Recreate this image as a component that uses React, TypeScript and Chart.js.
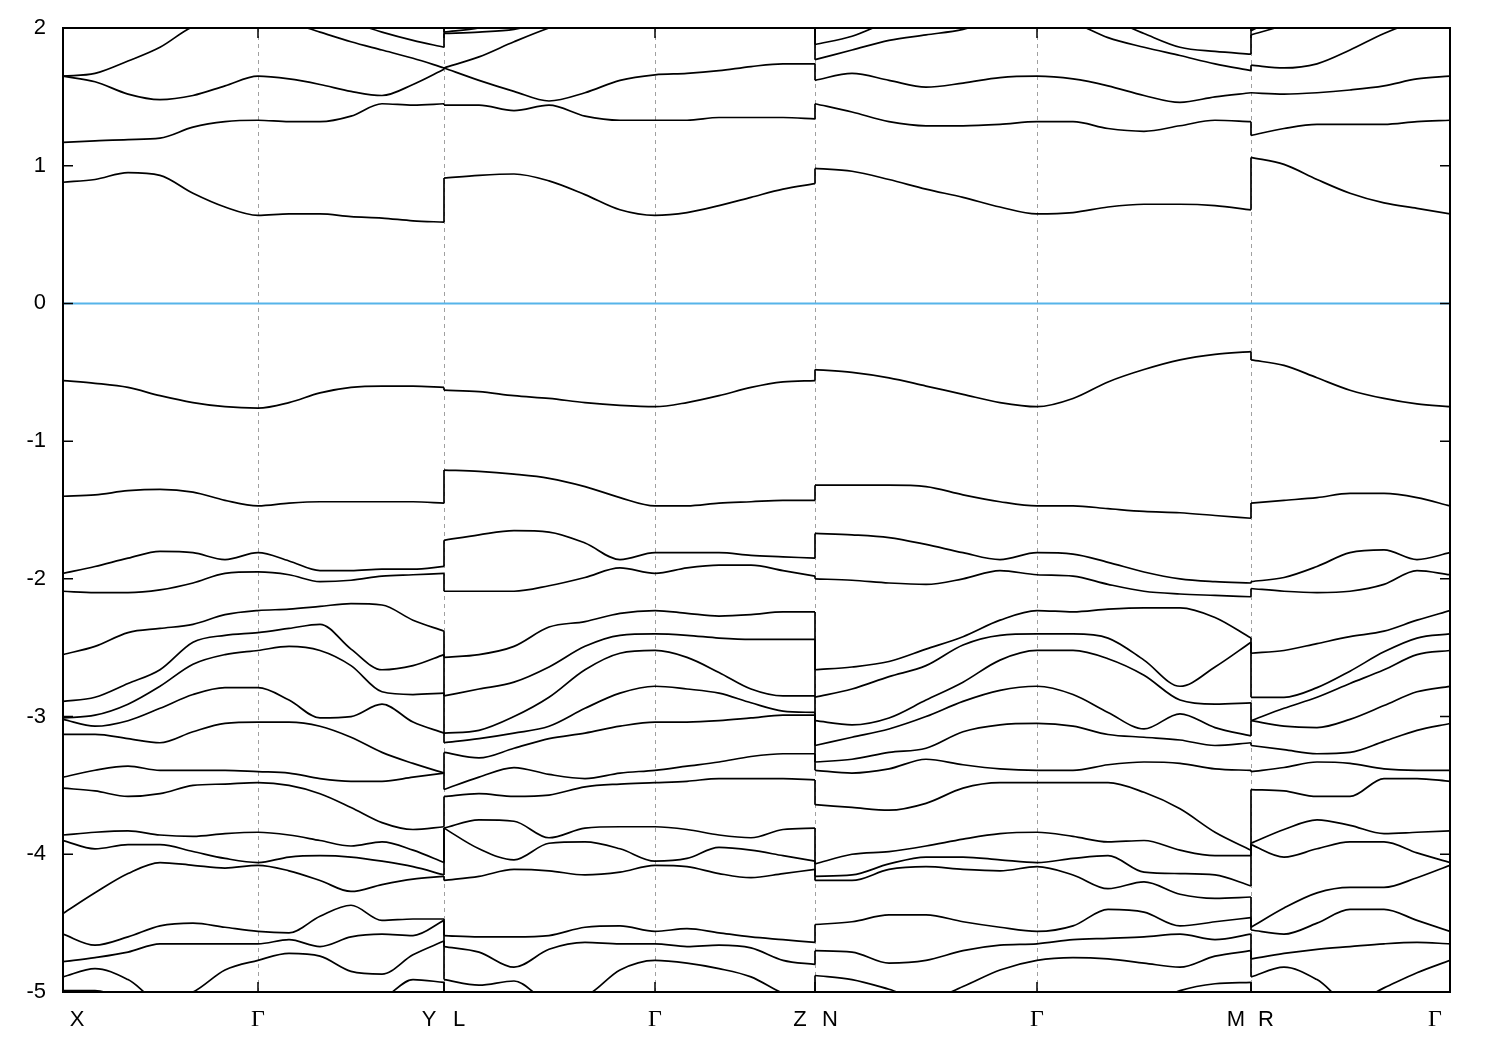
import React, { useEffect, useRef } from 'react';
import { Chart, registerables } from 'chart.js';

Chart.register(...registerables);

// k-path sampling (arb. units) for the four path pieces
const kXY = [0, 0.32, 0.65, 0.97, 1.30, 1.62, 1.95, 2.26, 2.57, 2.88, 3.19, 3.50, 3.81];
const kLZ = [3.81, 4.16, 4.51, 4.86, 5.22, 5.57, 5.92, 6.24, 6.56, 6.88, 7.20, 7.52];
const kNM = [7.52, 7.89, 8.26, 8.63, 9.00, 9.37, 9.74, 10.10, 10.45, 10.81, 11.17, 11.52, 11.88];
const kRG = [11.88, 12.21, 12.54, 12.87, 13.21, 13.54, 13.87];

// high-symmetry points
const symK = [0, 1.95, 3.81, 3.81, 5.92, 7.52, 7.52, 9.74, 11.88, 11.88, 13.87];
const symLabels = ['X', 'Γ', 'Y', 'L', 'Γ', 'Z', 'N', 'Γ', 'M', 'R', 'Γ'];
const yTicks = [-5, -4, -3, -2, -1, 0, 1, 2];
const fermiLevel = 0;

// band energies (eV), one sub-array per path piece
const CB6 = [
  [2.35, 2.35, 2.35, 2.35, 2.35, 2.35, 2.35, 2.35, 2.35, 2.3, 2.25, 2.18, 2.1],
  [1.97, 2.0, 2.06, 2.12, 2.2, 2.3, 2.35, 2.35, 2.35, 2.35, 2.35, 2.35],
  [2.3, 2.3, 2.3, 2.3, 2.3, 2.3, 2.3, 2.3, 2.3, 2.3, 2.3, 2.3, 2.3],
  [1.98, 2.1, 2.2, 2.3, 2.3, 2.3, 2.3],
];
const CB5 = [
  [2.15, 2.2, 2.25, 2.25, 2.25, 2.2, 2.2, 2.15, 2.1, 2.04, 1.97, 1.91, 1.86],
  [1.96, 1.97, 1.99, 2.05, 2.12, 2.2, 2.25, 2.25, 2.25, 2.25, 2.25, 2.25],
  [1.88, 1.94, 2.05, 2.15, 2.2, 2.2, 2.2, 2.15, 2.07, 1.96, 1.86, 1.83, 1.81],
  [1.95, 2.02, 2.1, 2.15, 2.2, 2.2, 2.2],
];
const CB4 = [
  [1.65, 1.67, 1.76, 1.86, 2.01, 2.06, 2.08, 2.04, 1.97, 1.90, 1.84, 1.78, 1.71],
  [1.71, 1.79, 1.90, 2.0, 2.08, 2.12, 2.15, 2.15, 2.15, 2.15, 2.12, 2.1],
  [1.77, 1.84, 1.91, 1.95, 1.99, 2.07, 2.1, 2.04, 1.93, 1.86, 1.80, 1.74, 1.69],
  [1.73, 1.71, 1.74, 1.84, 1.96, 2.05, 2.1],
];
const CB3 = [
  [1.65, 1.61, 1.52, 1.48, 1.51, 1.58, 1.65, 1.63, 1.59, 1.54, 1.51, 1.59, 1.70],
  [1.71, 1.62, 1.54, 1.47, 1.53, 1.62, 1.66, 1.67, 1.69, 1.72, 1.74, 1.74],
  [1.62, 1.67, 1.62, 1.57, 1.60, 1.64, 1.65, 1.63, 1.58, 1.51, 1.46, 1.50, 1.53],
  [1.53, 1.52, 1.53, 1.55, 1.58, 1.63, 1.65],
];
const CB2 = [
  [1.17, 1.18, 1.19, 1.20, 1.28, 1.32, 1.33, 1.32, 1.32, 1.36, 1.45, 1.44, 1.45],
  [1.44, 1.44, 1.40, 1.44, 1.36, 1.33, 1.33, 1.33, 1.35, 1.35, 1.35, 1.34],
  [1.45, 1.39, 1.32, 1.29, 1.29, 1.30, 1.32, 1.32, 1.27, 1.25, 1.29, 1.33, 1.32],
  [1.22, 1.27, 1.30, 1.30, 1.30, 1.32, 1.33],
];
const CB1 = [
  [0.88, 0.90, 0.95, 0.93, 0.80, 0.70, 0.64, 0.65, 0.65, 0.63, 0.62, 0.60, 0.59],
  [0.91, 0.93, 0.94, 0.89, 0.79, 0.68, 0.64, 0.66, 0.71, 0.77, 0.83, 0.87],
  [0.98, 0.96, 0.90, 0.83, 0.77, 0.70, 0.65, 0.66, 0.70, 0.72, 0.72, 0.71, 0.68],
  [1.06, 1.01, 0.90, 0.80, 0.73, 0.69, 0.65],
];
const VB1 = [
  [-0.56, -0.58, -0.61, -0.67, -0.72, -0.75, -0.76, -0.72, -0.65, -0.61, -0.60, -0.60, -0.61],
  [-0.63, -0.64, -0.67, -0.69, -0.72, -0.74, -0.75, -0.72, -0.67, -0.61, -0.57, -0.56],
  [-0.48, -0.50, -0.54, -0.60, -0.66, -0.72, -0.75, -0.69, -0.57, -0.48, -0.41, -0.37, -0.35],
  [-0.41, -0.45, -0.54, -0.63, -0.69, -0.73, -0.75],
];
const VB2 = [
  [-1.40, -1.39, -1.36, -1.35, -1.37, -1.43, -1.47, -1.45, -1.44, -1.44, -1.44, -1.44, -1.45],
  [-1.21, -1.22, -1.24, -1.27, -1.33, -1.41, -1.47, -1.47, -1.45, -1.44, -1.43, -1.43],
  [-1.32, -1.32, -1.32, -1.33, -1.39, -1.44, -1.47, -1.47, -1.49, -1.51, -1.52, -1.54, -1.56],
  [-1.45, -1.43, -1.41, -1.38, -1.38, -1.41, -1.47],
];
const VB3 = [
  [-1.96, -1.91, -1.85, -1.80, -1.81, -1.86, -1.81, -1.87, -1.94, -1.94, -1.93, -1.93, -1.91],
  [-1.72, -1.68, -1.65, -1.66, -1.74, -1.86, -1.81, -1.81, -1.81, -1.83, -1.84, -1.85],
  [-1.67, -1.68, -1.70, -1.75, -1.81, -1.86, -1.81, -1.82, -1.88, -1.95, -2.00, -2.02, -2.03],
  [-2.02, -1.99, -1.91, -1.81, -1.79, -1.86, -1.81],
];
const VB4 = [
  [-2.09, -2.10, -2.10, -2.08, -2.03, -1.96, -1.95, -1.97, -2.02, -2.01, -1.98, -1.97, -1.96],
  [-2.09, -2.09, -2.09, -2.05, -1.99, -1.92, -1.96, -1.92, -1.90, -1.90, -1.94, -1.98],
  [-2.00, -2.01, -2.03, -2.04, -2.00, -1.94, -1.97, -1.98, -2.04, -2.09, -2.11, -2.12, -2.13],
  [-2.07, -2.09, -2.10, -2.09, -2.04, -1.94, -1.97],
];
const VB5 = [
  [-2.55, -2.49, -2.39, -2.36, -2.33, -2.26, -2.23, -2.22, -2.20, -2.18, -2.19, -2.30, -2.38],
  [-2.57, -2.55, -2.49, -2.35, -2.31, -2.25, -2.23, -2.25, -2.27, -2.26, -2.24, -2.24],
  [-2.66, -2.64, -2.60, -2.51, -2.42, -2.30, -2.23, -2.24, -2.22, -2.21, -2.21, -2.28, -2.43],
  [-2.54, -2.52, -2.47, -2.42, -2.38, -2.30, -2.23],
];
const VB6 = [
  [-2.89, -2.86, -2.76, -2.66, -2.46, -2.41, -2.39, -2.36, -2.33, -2.51, -2.66, -2.63, -2.55],
  [-2.85, -2.80, -2.75, -2.64, -2.49, -2.41, -2.40, -2.41, -2.43, -2.44, -2.44, -2.44],
  [-2.86, -2.80, -2.71, -2.63, -2.48, -2.41, -2.40, -2.40, -2.43, -2.59, -2.78, -2.64, -2.46],
  [-2.86, -2.86, -2.79, -2.67, -2.53, -2.43, -2.40],
];
const VB7 = [
  [-3.01, -2.99, -2.91, -2.78, -2.62, -2.55, -2.52, -2.49, -2.52, -2.63, -2.82, -2.84, -2.83],
  [-3.12, -3.10, -3.00, -2.86, -2.66, -2.54, -2.52, -2.57, -2.68, -2.80, -2.85, -2.85],
  [-3.03, -3.06, -3.01, -2.88, -2.75, -2.59, -2.52, -2.52, -2.58, -2.70, -2.88, -2.91, -2.90],
  [-3.03, -2.94, -2.86, -2.76, -2.66, -2.55, -2.52],
];
const VB8 = [
  [-3.02, -3.07, -3.03, -2.94, -2.84, -2.79, -2.79, -2.88, -3.01, -3.00, -2.91, -3.04, -3.12],
  [-3.19, -3.16, -3.12, -3.07, -2.94, -2.83, -2.78, -2.80, -2.83, -2.90, -2.96, -2.97],
  [-3.21, -3.15, -3.09, -3.00, -2.89, -2.81, -2.78, -2.84, -2.97, -3.09, -2.98, -3.08, -3.14],
  [-3.03, -3.07, -3.08, -3.02, -2.92, -2.82, -2.78],
];
const VB9 = [
  [-3.13, -3.13, -3.16, -3.19, -3.11, -3.05, -3.04, -3.04, -3.07, -3.15, -3.26, -3.34, -3.41],
  [-3.26, -3.30, -3.23, -3.16, -3.12, -3.07, -3.04, -3.04, -3.03, -3.01, -2.99, -2.99],
  [-3.33, -3.31, -3.26, -3.23, -3.11, -3.06, -3.05, -3.07, -3.13, -3.15, -3.17, -3.21, -3.19],
  [-3.21, -3.24, -3.27, -3.26, -3.18, -3.10, -3.05],
];
const VB10 = [
  [-3.44, -3.39, -3.36, -3.39, -3.39, -3.39, -3.40, -3.41, -3.45, -3.47, -3.47, -3.44, -3.41],
  [-3.53, -3.44, -3.37, -3.42, -3.45, -3.41, -3.39, -3.36, -3.33, -3.29, -3.27, -3.27],
  [-3.39, -3.41, -3.38, -3.31, -3.35, -3.38, -3.39, -3.39, -3.35, -3.33, -3.34, -3.38, -3.39],
  [-3.40, -3.37, -3.33, -3.34, -3.38, -3.39, -3.39],
];
const VB11 = [
  [-3.52, -3.54, -3.58, -3.56, -3.50, -3.49, -3.48, -3.50, -3.56, -3.66, -3.77, -3.82, -3.80],
  [-3.58, -3.56, -3.58, -3.57, -3.51, -3.49, -3.48, -3.47, -3.45, -3.45, -3.45, -3.46],
  [-3.64, -3.66, -3.68, -3.63, -3.52, -3.48, -3.48, -3.48, -3.48, -3.55, -3.67, -3.84, -3.97],
  [-3.53, -3.54, -3.58, -3.58, -3.45, -3.45, -3.47],
];
const VB12 = [
  [-3.86, -3.84, -3.83, -3.86, -3.87, -3.85, -3.84, -3.86, -3.90, -3.94, -3.91, -3.97, -4.06],
  [-3.81, -3.75, -3.76, -3.88, -3.81, -3.80, -3.80, -3.82, -3.86, -3.88, -3.82, -3.81],
  [-4.07, -4.00, -3.98, -3.94, -3.89, -3.85, -3.84, -3.87, -3.91, -3.90, -3.97, -4.01, -4.01],
  [-3.92, -3.82, -3.75, -3.79, -3.85, -3.84, -3.83],
];
const VB13 = [
  [-3.90, -3.96, -3.93, -3.93, -3.98, -4.03, -4.06, -4.02, -4.01, -4.02, -4.05, -4.09, -4.15],
  [-3.81, -3.96, -4.04, -3.92, -3.91, -3.96, -4.05, -4.03, -3.95, -3.97, -4.01, -4.05],
  [-4.16, -4.15, -4.07, -4.02, -4.02, -4.04, -4.06, -4.03, -4.01, -4.13, -4.14, -4.15, -4.23],
  [-3.93, -4.02, -3.96, -3.91, -3.91, -3.99, -4.06],
];
const VB14 = [
  [-4.43, -4.28, -4.14, -4.06, -4.08, -4.10, -4.08, -4.12, -4.19, -4.27, -4.22, -4.18, -4.16],
  [-4.19, -4.16, -4.11, -4.12, -4.15, -4.13, -4.08, -4.09, -4.14, -4.17, -4.14, -4.11],
  [-4.19, -4.19, -4.11, -4.09, -4.11, -4.12, -4.09, -4.15, -4.25, -4.20, -4.29, -4.32, -4.31],
  [-4.53, -4.39, -4.28, -4.24, -4.24, -4.17, -4.08],
];
const VB15 = [
  [-4.58, -4.66, -4.60, -4.52, -4.50, -4.53, -4.56, -4.57, -4.45, -4.37, -4.48, -4.47, -4.47],
  [-4.59, -4.60, -4.60, -4.59, -4.53, -4.52, -4.56, -4.54, -4.57, -4.60, -4.62, -4.64],
  [-4.51, -4.49, -4.44, -4.44, -4.49, -4.53, -4.56, -4.52, -4.40, -4.42, -4.52, -4.49, -4.46],
  [-4.55, -4.58, -4.50, -4.40, -4.40, -4.48, -4.56],
];
const VB16 = [
  [-4.78, -4.75, -4.71, -4.65, -4.65, -4.65, -4.65, -4.62, -4.67, -4.60, -4.58, -4.59, -4.48],
  [-4.67, -4.71, -4.82, -4.69, -4.64, -4.65, -4.65, -4.67, -4.66, -4.68, -4.77, -4.80],
  [-4.70, -4.71, -4.79, -4.77, -4.70, -4.66, -4.65, -4.62, -4.61, -4.60, -4.58, -4.62, -4.58],
  [-4.76, -4.72, -4.69, -4.67, -4.65, -4.64, -4.65],
];
const VB17 = [
  [-4.89, -4.83, -4.91, -5.06, -5.00, -4.84, -4.77, -4.72, -4.74, -4.85, -4.87, -4.73, -4.63],
  [-4.91, -4.95, -4.92, -5.06, -5.03, -4.84, -4.77, -4.79, -4.83, -4.89, -5.01, -5.08],
  [-4.88, -4.91, -4.98, -5.06, -4.96, -4.84, -4.77, -4.75, -4.76, -4.79, -4.82, -4.74, -4.70],
  [-4.89, -4.82, -4.91, -5.08, -4.97, -4.86, -4.77],
];
const VB18 = [
  [-4.99, -4.99, -5.06, -5.12, -5.12, -5.10, -5.08, -5.08, -5.08, -5.08, -5.05, -4.91, -4.93],
  [-5.12, -5.12, -5.12, -5.12, -5.12, -5.12, -5.12, -5.12, -5.12, -5.12, -5.12, -5.12],
  [-5.12, -5.12, -5.12, -5.12, -5.12, -5.12, -5.12, -5.12, -5.12, -5.10, -4.99, -4.94, -4.93],
  [-5.12, -5.12, -5.12, -5.12, -5.12, -5.12, -5.12],
];

const SANS = '"Liberation Sans", Arial, Helvetica, sans-serif';
const SERIF = '"Liberation Serif", "DejaVu Serif", "Times New Roman", serif';

const framePlugin = {
  id: 'gnuplotFrame',
  beforeDatasetsDraw(chart: any) {
    const { ctx, chartArea: a, scales } = chart;
    const xs = scales.x;
    ctx.save();
    ctx.strokeStyle = '#a0a0a0';
    ctx.lineWidth = 1;
    ctx.setLineDash([4, 4]);
    const seen = new Set<number>();
    symK.forEach((k, i) => {
      if (i === 0 || i === symK.length - 1 || seen.has(k)) return;
      seen.add(k);
      const px = Math.round(xs.getPixelForValue(k)) + 0.5;
      ctx.beginPath();
      ctx.moveTo(px, a.top);
      ctx.lineTo(px, a.bottom);
      ctx.stroke();
    });
    ctx.restore();
  },
  afterDatasetsDraw(chart: any) {
    const { ctx, chartArea: a, scales } = chart;
    const xs = scales.x;
    const ys = scales.y;
    ctx.save();
    ctx.setLineDash([]);
    ctx.strokeStyle = '#000';
    ctx.lineWidth = 2;
    ctx.strokeRect(a.left, a.top, a.right - a.left, a.bottom - a.top);
    ctx.lineWidth = 1.5;
    ctx.beginPath();
    yTicks.forEach((v) => {
      const py = ys.getPixelForValue(v);
      ctx.moveTo(a.left, py);
      ctx.lineTo(a.left + 10, py);
      ctx.moveTo(a.right, py);
      ctx.lineTo(a.right - 10, py);
    });
    symK.forEach((k) => {
      const px = xs.getPixelForValue(k);
      ctx.moveTo(px, a.top);
      ctx.lineTo(px, a.top + 10);
      ctx.moveTo(px, a.bottom);
      ctx.lineTo(px, a.bottom - 10);
    });
    ctx.stroke();

    ctx.fillStyle = '#000';
    ctx.font = `22px ${SANS}`;
    ctx.textAlign = 'right';
    ctx.textBaseline = 'middle';
    yTicks.forEach((v) => ctx.fillText(String(v), a.left - 17, ys.getPixelForValue(v)));

    ctx.textAlign = 'center';
    symLabels.forEach((lab, i) => {
      let px = xs.getPixelForValue(symK[i]);
      if (i === 0) px += 14;
      else if (i === symK.length - 1) px -= 15;
      else if (symK[i + 1] === symK[i]) px -= 15;
      else if (symK[i - 1] === symK[i]) px += 15;
      ctx.font = lab === 'Γ' ? `24px ${SERIF}` : `22px ${SANS}`;
      ctx.fillText(lab, px, a.bottom + 28);
    });
    ctx.restore();
  },
};

export default function App() {
  const ref = useRef<HTMLCanvasElement>(null);

  useEffect(() => {
    const canvas = ref.current;
    if (!canvas) return;
    const segK = [kXY, kLZ, kNM, kRG];
    const bands = [
      CB6, CB5, CB4, CB3, CB2, CB1,
      VB1, VB2, VB3, VB4, VB5, VB6, VB7, VB8, VB9, VB10, VB11, VB12, VB13, VB14, VB15, VB16, VB17, VB18,
    ];
    const lineStyle = { borderColor: '#000000', borderWidth: 1.7, pointRadius: 0, fill: false };
    const datasets: any[] = [
      {
        data: [
          { x: kXY[0], y: fermiLevel },
          { x: kRG[kRG.length - 1], y: fermiLevel },
        ],
        borderColor: '#56b4e9',
        borderWidth: 2,
        pointRadius: 0,
        fill: false,
        tension: 0,
      },
    ];
    bands.forEach((band) => {
      band.forEach((vals, s) => {
        const ks = segK[s];
        datasets.push({
          ...lineStyle,
          data: ks.map((k, i) => ({ x: k, y: vals[i] })),
          cubicInterpolationMode: 'monotone',
        });
        if (s < band.length - 1) {
          datasets.push({
            ...lineStyle,
            tension: 0,
            data: [
              { x: ks[ks.length - 1], y: vals[vals.length - 1] },
              { x: segK[s + 1][0], y: band[s + 1][0] },
            ],
          });
        }
      });
    });

    const chart = new Chart(canvas, {
      type: 'line',
      data: { datasets },
      options: {
        responsive: false,
        animation: false,
        events: [],
        layout: { padding: { left: 63, top: 28, right: 50, bottom: 58 } },
        scales: {
          x: { type: 'linear', min: 0, max: kRG[kRG.length - 1], display: false },
          y: { type: 'linear', min: yTicks[0], max: yTicks[yTicks.length - 1], display: false },
        },
        plugins: { legend: { display: false }, tooltip: { enabled: false } },
      },
      plugins: [framePlugin],
    } as any);
    return () => chart.destroy();
  }, []);

  return (
    <div style={{ position: 'absolute', left: 0, top: 0, width: 1500, height: 1050, background: '#ffffff' }}>
      <canvas ref={ref} width={1500} height={1050} style={{ display: 'block' }} />
    </div>
  );
}
